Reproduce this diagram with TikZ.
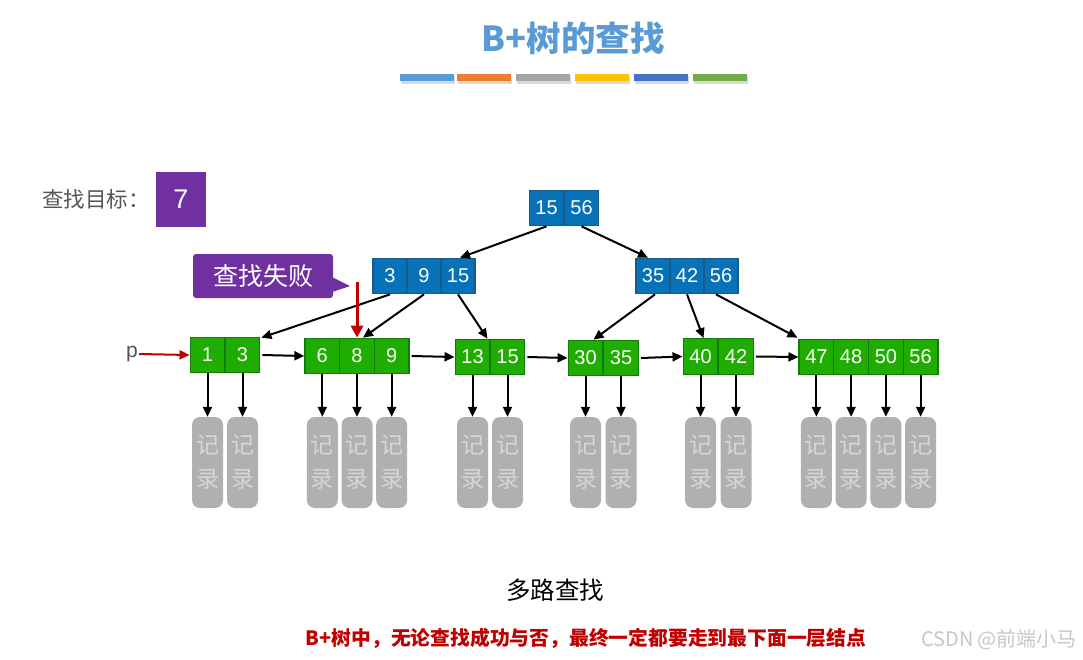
\documentclass[tikz,border=0pt]{standalone}
\usepackage{fontspec}
\setmainfont{Liberation Sans}
\newfontfamily\cjk{Noto Sans CJK SC}
\usetikzlibrary{arrows.meta,positioning}
\definecolor{titleblue}{HTML}{5B9BD5}
\definecolor{barorange}{HTML}{ED7D31}
\definecolor{bargray}{HTML}{A5A5A5}
\definecolor{baryellow}{HTML}{FFC000}
\definecolor{barblue}{HTML}{4472C4}
\definecolor{bargreen}{HTML}{70AD47}
\definecolor{cellblue}{HTML}{0872B8}
\definecolor{cellblueb}{HTML}{1B5A86}
\definecolor{cellgreen}{HTML}{1FAD02}
\definecolor{cellgreenb}{HTML}{137A0E}
\definecolor{recgray}{HTML}{B0B0B0}
\definecolor{rectext}{HTML}{D6D6D6}
\definecolor{purp}{HTML}{7030A0}
\definecolor{darkred}{HTML}{C00000}
\definecolor{txtgray}{HTML}{555555}
\tikzset{
  bcell/.style={draw=cellblueb, line width=1.2pt, fill=cellblue, text=white, minimum width=34.5pt, minimum height=35.5pt, inner sep=0pt, font=\fontsize{20}{20}\selectfont},
  gcell/.style={draw=cellgreenb, line width=1.2pt, fill=cellgreen, text=white, minimum width=34.7pt, minimum height=35.5pt, inner sep=0pt, font=\fontsize{20}{20}\selectfont},
  rec/.style={fill=recgray, rounded corners=8pt, minimum width=31pt, minimum height=91pt, inner sep=0pt, text=rectext, align=center, font=\cjk\fontsize{23}{34}\selectfont},
  arr/.style={line width=2pt, -{Triangle[length=10pt,width=9pt]}},
  redarr/.style={darkred, line width=2pt, -{Triangle[length=10pt,width=9pt]}}
}
\begin{document}
\begin{tikzpicture}[x=1pt,y=-1pt]
\useasboundingbox (0,0) rectangle (1083,659);
\fill[white] (0,0) rectangle (1083,659);
% title
\node[text=titleblue, font=\cjk\bfseries\fontsize{34.5}{34.5}\selectfont] (title) at (573,38) {B+树的查找};
% bars
\foreach \x/\c in {400/titleblue,457/barorange,516/bargray,575/baryellow,634/barblue,693/bargreen}{
  \fill[black!15] (\x+1,76) rectangle (\x+55,83.5);
  \fill[\c] (\x,74) rectangle (\x+54,81);
}
% target
\node[text=txtgray, font=\cjk\fontsize{21.5}{21.5}\selectfont, anchor=west, inner sep=0pt] (tlabel) at (42,199) {查找目标：};
\node[fill=purp, minimum width=50pt, minimum height=55pt, inner sep=0pt, text=white, font=\fontsize{27}{27}\selectfont] (target) at (181,199.5) {7};
% root
\node[bcell] (r1) at (546.5,208) {15};
\node[bcell] (r2) at (581.5,208) {56};
% internal left
\node[bcell,minimum width=34pt] (A1) at (390,276) {3};
\node[bcell,minimum width=34pt] (A2) at (424,276) {9};
\node[bcell,minimum width=34pt] (A3) at (458,276) {15};
% internal right
\node[bcell,minimum width=34pt] (B1) at (653,276) {35};
\node[bcell,minimum width=34pt] (B2) at (687,276) {42};
\node[bcell,minimum width=34pt] (B3) at (721,276) {56};
% leaves
\node[gcell] (a1) at (207.5,355) {1};
\node[gcell] (a2) at (242.5,355) {3};
\node[gcell] (b1) at (322.3,356) {6};
\node[gcell] (b2) at (357,356) {8};
\node[gcell] (b3) at (391.7,356) {9};
\node[gcell] (c1) at (472.5,357) {13};
\node[gcell] (c2) at (507.5,357) {15};
\node[gcell] (d1) at (585.5,358) {30};
\node[gcell] (d2) at (621,358) {35};
\node[gcell] (e1) at (700.5,356.5) {40};
\node[gcell] (e2) at (736,356.5) {42};
\node[gcell] (f1) at (816.4,357) {47};
\node[gcell] (f2) at (851.1,357) {48};
\node[gcell] (f3) at (885.9,357) {50};
\node[gcell] (f4) at (920.6,357) {56};
% records
\foreach \n in {a1,a2,b1,b2,b3,c1,c2,d1,d2,e1,e2,f1,f2,f3,f4}{
  \node[rec] (rec\n) at (\n |- 0,462.5) {记\\录};
  \draw[arr] (\n.south) -- (rec\n.north);
}
% tree arrows
\draw[arr] (r1.south) -- ([xshift=2pt]A3.north);
\draw[arr] (r2.south) -- ([xshift=-5pt]B1.north);
\draw[arr] (A1.south) -- ([xshift=1pt,yshift=-1pt]a2.north east);
\draw[arr] (A2.south) -- ([xshift=6pt]b2.north);
\draw[arr] (A3.south) -- ([xshift=-3pt]c1.north east);
\draw[arr] ([xshift=2pt]B1.south) -- ([xshift=8pt]d1.north);
\draw[arr] (B2.south) -- ([xshift=3pt]e1.north);
\draw[arr] ([xshift=-5pt]B3.south) -- ([xshift=-1pt,yshift=1pt]f1.north west);
% leaf chain
\draw[arr] ([xshift=2pt]a2.east) -- (b1.west);
\draw[arr] ([xshift=2pt]b3.east) -- (c1.west);
\draw[arr] ([xshift=2pt]c2.east) -- (d1.west);
\draw[arr] ([xshift=2pt]d2.east) -- (e1.west);
\draw[arr] ([xshift=2pt]e2.east) -- (f1.west);
% p pointer
\node[text=txtgray, font=\fontsize{21}{21}\selectfont, inner sep=1pt] (p) at (132,354) {p};
\draw[redarr] (p.east) -- (a1.west);
% fail callout
\fill[purp, rounded corners=3pt] (193,254) rectangle (333,298);
\fill[purp] (332,277) -- (350,286) -- (332,292) -- cycle;
\node[text=white, font=\cjk\fontsize{25}{25}\selectfont] (fail) at (263,276) {查找失败};
\coordinate (failtop) at (357,282);
\draw[darkred, line width=3pt, -{Triangle[length=12pt,width=12pt]}] (failtop) -- (b2.north);
% bottom texts
\node[font=\cjk\fontsize{24.5}{24.5}\selectfont] (multi) at (555,590) {多路查找};
\node[text=darkred, font=\cjk\bfseries\fontsize{19.8}{19.8}\selectfont] (note) at (586,638) {B+树中，无论查找成功与否，最终一定都要走到最下面一层结点};
\node[text=black!22, font=\cjk\fontsize{20}{20}\selectfont] (wm) at (999,640) {CSDN @前端小马};
\end{tikzpicture}
\end{document}
